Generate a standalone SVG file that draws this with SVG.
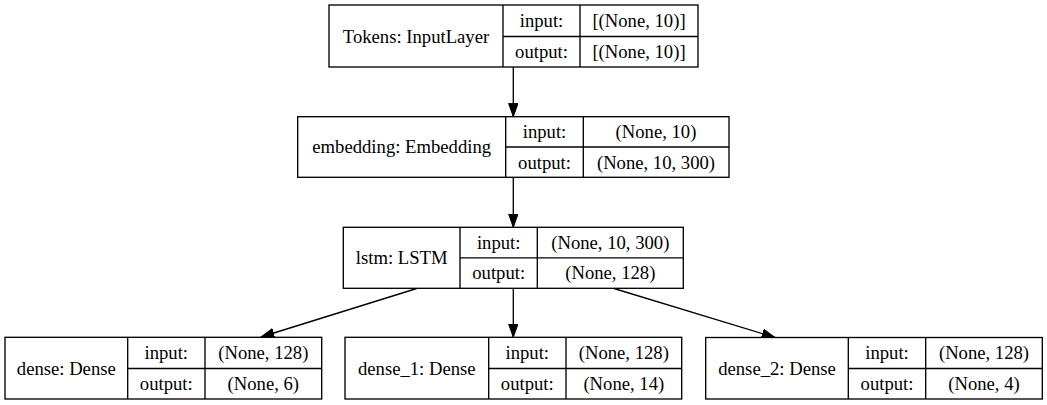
<svg xmlns="http://www.w3.org/2000/svg" width="1047" height="405" viewBox="0 0 1047 405">
<style>
.box{fill:#fff;stroke:#000;stroke-width:1.33}
.ln{fill:none;stroke:#000;stroke-width:1.33}
text{font-family:"Liberation Serif","Times New Roman",serif;font-size:18.67px;text-anchor:middle;fill:#000}
.edge{fill:none;stroke:#000;stroke-width:1.33;marker-end:url(#ah)}
</style>
<defs>
<marker id="ah" markerUnits="userSpaceOnUse" markerWidth="14" markerHeight="10" refX="13.3" refY="4.7" orient="auto">
<path d="M0,0 L13.3,4.7 L0,9.4 Z" fill="#000" stroke="#000" stroke-width="1"/>
</marker>
</defs>
<rect width="1047" height="405" fill="#fff"/>
<g id="connectors">
<path class="edge" d="M513.3,67 L513.3,116.7"/>
<path class="edge" d="M513.3,177.3 L513.3,227.3"/>
<path class="edge" d="M416.7,288.5 L261,337"/>
<path class="edge" d="M513.3,288.5 L513.3,337.3"/>
<path class="edge" d="M614,288.5 L775,337.5"/>
</g>
<g id="node-tokens">
<rect class="box" x="329" y="5" width="369" height="62"/>
<path class="ln" d="M503,5 V67 M580,5 V67 M503,36.5 H698"/>
<text x="416" y="42.5">Tokens: InputLayer</text>
<text x="541.5" y="27">input:</text>
<text x="541.5" y="58">output:</text>
<text x="639" y="27">[(None, 10)]</text>
<text x="639" y="58">[(None, 10)]</text>
</g>
<g id="node-embedding">
<rect class="box" x="297.7" y="116.7" width="431.3" height="60.6"/>
<path class="ln" d="M505.7,116.7 V177.3 M583.3,116.7 V177.3 M505.7,147 H729"/>
<text x="401.7" y="153">embedding: Embedding</text>
<text x="544.5" y="138">input:</text>
<text x="544.5" y="168.5">output:</text>
<text x="656" y="138">(None, 10)</text>
<text x="656" y="168.5">(None, 10, 300)</text>
</g>
<g id="node-lstm">
<rect class="box" x="343.3" y="227.3" width="340" height="61"/>
<path class="ln" d="M460,227.3 V288.3 M537.3,227.3 V288.3 M460,257.8 H683.3"/>
<text x="401.7" y="264">lstm: LSTM</text>
<text x="498.7" y="248.5">input:</text>
<text x="498.7" y="279">output:</text>
<text x="610.3" y="248.5">(None, 10, 300)</text>
<text x="610.3" y="279">(None, 128)</text>
</g>
<g id="node-dense">
<rect class="box" x="5" y="337.3" width="316.7" height="61.7"/>
<path class="ln" d="M127.7,337.3 V399 M205,337.3 V399 M127.7,368.5 H321.7"/>
<text x="66.3" y="374.5">dense: Dense</text>
<text x="166.3" y="359">input:</text>
<text x="166.3" y="390">output:</text>
<text x="263.3" y="359">(None, 128)</text>
<text x="263.3" y="390">(None, 6)</text>
</g>
<g id="node-dense_1">
<rect class="box" x="345" y="337.3" width="336.7" height="61.7"/>
<path class="ln" d="M488.7,337.3 V399 M566,337.3 V399 M488.7,368.5 H681.7"/>
<text x="416.8" y="374.5">dense_1: Dense</text>
<text x="527.3" y="359">input:</text>
<text x="527.3" y="390">output:</text>
<text x="623.8" y="359">(None, 128)</text>
<text x="623.8" y="390">(None, 14)</text>
</g>
<g id="node-dense_2">
<rect class="box" x="705.7" y="337.5" width="336.6" height="61.5"/>
<path class="ln" d="M848.3,337.5 V399 M925.7,337.5 V399 M848.3,368.5 H1042.3"/>
<text x="777" y="374.5">dense_2: Dense</text>
<text x="887" y="359">input:</text>
<text x="887" y="390">output:</text>
<text x="984" y="359">(None, 128)</text>
<text x="984" y="390">(None, 4)</text>
</g>
</svg>
